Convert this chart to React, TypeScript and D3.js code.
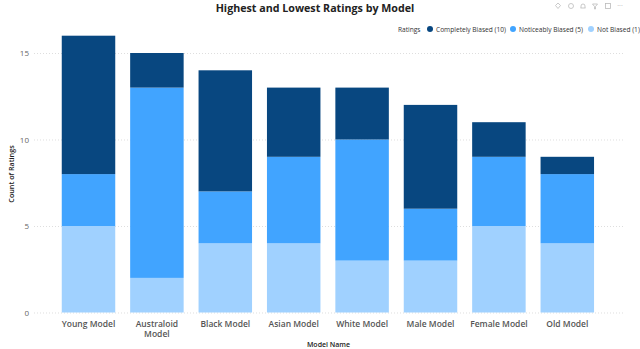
import React, { useRef, useEffect } from 'react';
import * as d3 from 'd3';

const models = ["Young Model", "Australoid Model", "Black Model", "Asian Model", "White Model", "Male Model", "Female Model", "Old Model"];
const notBiased = [5, 2, 4, 4, 3, 3, 5, 4];
const noticeablyBiased = [3, 11, 3, 5, 7, 3, 4, 4];
const completelyBiased = [8, 2, 7, 4, 3, 6, 2, 1];
const yTicks = [0, 5, 10, 15];

const seriesKeys = ["Not Biased (1)", "Noticeably Biased (5)", "Completely Biased (10)"];
const seriesValues = [notBiased, noticeablyBiased, completelyBiased];
const legendOrder = ["Completely Biased (10)", "Noticeably Biased (5)", "Not Biased (1)"];
const legendX = [430, 513, 591];
const colors = ["#a0d1ff", "#41a4ff", "#084780"];

const font = "'Open Sans', sans-serif";

const App = () => {
    const ref = useRef<SVGSVGElement>(null);

    useEffect(() => {
        const svg = d3.select(ref.current);
        svg.selectAll("*").remove();

        const rows = models.map((m, i) => {
            const row: any = { model: m };
            seriesKeys.forEach((k, s) => { row[k] = seriesValues[s][i]; });
            return row;
        });

        const x = d3.scaleBand(models, [54.3, 601.5]).paddingInner(0.218).paddingOuter(0.109);
        const y = d3.scaleLinear([0, 15], [312.5, 53]);
        const color = d3.scaleOrdinal(seriesKeys, colors);

        // gridlines and y labels
        svg.append("g")
            .attr("transform", "translate(34,0)")
            .call(d3.axisLeft(y).tickValues(yTicks).tickSize(0).tickPadding(5))
            .call(g => g.select(".domain").remove())
            .call(g => g.selectAll(".tick line").clone()
                .attr("x2", 590)
                .attr("stroke", "#d0d0d0")
                .attr("stroke-width", 0.7)
                .attr("stroke-dasharray", "1 2"))
            .call(g => g.selectAll("text")
                .attr("fill", "#666")
                .attr("font-family", font)
                .attr("font-size", 8));

        const stacked = d3.stack().keys(seriesKeys)(rows);

        svg.append("g")
            .selectAll("g")
            .data(stacked)
            .join("g")
            .attr("fill", (d: any) => color(d.key))
            .selectAll("rect")
            .data((d: any) => d)
            .join("rect")
            .attr("x", (d: any) => x(d.data.model)!)
            .attr("y", (d: any) => y(d[1]))
            .attr("width", x.bandwidth())
            .attr("height", (d: any) => y(d[0]) - y(d[1]));

        // category labels, wrapped the way the original wraps them
        const xAxis = svg.append("g").attr("transform", "translate(0,312.5)");
        xAxis.call(d3.axisBottom(x).tickSize(0).tickPadding(8))
            .call(g => g.select(".domain").remove())
            .call(g => g.selectAll("text")
                .attr("fill", "#555")
                .attr("font-family", font)
                .attr("font-weight", 600)
                .attr("font-size", 8.5)
                .each(function (d: any) {
                    const t = d3.select(this);
                    if (d !== "Australoid Model") return;
                    t.text(null);
                    const y0 = t.attr("y");
                    d.split(" ").forEach((w: string, i: number) => {
                        t.append("tspan").attr("x", 0).attr("y", y0).attr("dy", `${0.71 + i * 1.25}em`).text(w);
                    });
                    t.attr("dy", null);
                }));

        svg.append("text")
            .attr("x", 315)
            .attr("y", 11.5)
            .attr("text-anchor", "middle")
            .attr("font-family", font)
            .attr("font-weight", 700)
            .attr("font-size", 10.7)
            .attr("fill", "#222")
            .text("Highest and Lowest Ratings by Model");

        svg.append("text")
            .attr("x", 328.5)
            .attr("y", 347)
            .attr("text-anchor", "middle")
            .attr("font-family", font)
            .attr("font-weight", 600)
            .attr("font-size", 7)
            .attr("fill", "#222")
            .text("Model Name");

        svg.append("text")
            .attr("transform", "translate(14,174) rotate(-90)")
            .attr("text-anchor", "middle")
            .attr("font-family", font)
            .attr("font-weight", 600)
            .attr("font-size", 7.2)
            .attr("fill", "#222")
            .text("Count of Ratings");

        // legend
        const legend = svg.append("g").attr("font-family", font).attr("font-size", 6.6).attr("fill", "#333");
        legend.append("text").attr("x", 398).attr("y", 31.5).text("Ratings");
        const items = legend.selectAll("g")
            .data(legendOrder)
            .join("g")
            .attr("transform", (_, i) => `translate(${legendX[i]},29)`);
        items.append("circle")
            .attr("r", 3)
            .attr("fill", d => color(d));
        items.append("text").attr("x", 6).attr("y", 2.5).text(d => d);

        // visual header icons
        const icons = svg.append("g")
            .attr("fill", "none")
            .attr("stroke", "#bbb")
            .attr("stroke-width", 0.8);
        icons.append("path").attr("d", "M558,3l2.5,2.5l-2.5,3l-2.5,-3z");
        icons.append("circle").attr("cx", 571).attr("cy", 6).attr("r", 2.5);
        icons.append("path").attr("d", "M580.5,8h5M581,8v-2a2,2 0 0 1 4,0v2");
        icons.append("path").attr("d", "M592.5,4h5l-2,2.5v2.5h-1v-2.5z");
        icons.append("rect").attr("x", 605.5).attr("y", 3.5).attr("width", 5).attr("height", 5);
        svg.append("text")
            .attr("x", 620).attr("y", 8)
            .attr("text-anchor", "middle")
            .attr("font-family", font)
            .attr("font-size", 7)
            .attr("fill", "#aaa")
            .text("···");
    }, []);

    return <svg ref={ref} width={640} height={349} viewBox="0 0 640 349"
        style={{ position: "absolute", left: 0, top: 0, background: "#fff" }} />;
};

export default App;
